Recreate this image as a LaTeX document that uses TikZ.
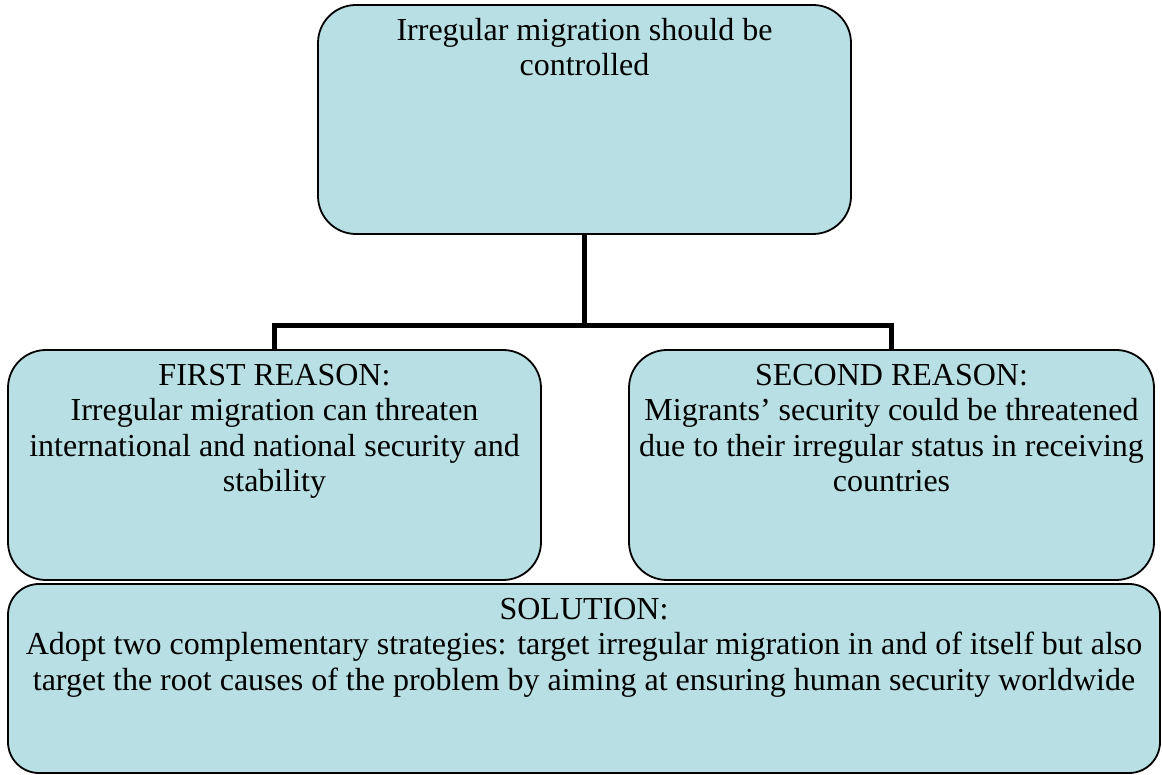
\documentclass[tikz,border=0pt]{standalone}
\usepackage{fontspec}
\setmainfont{Liberation Serif}
\definecolor{boxfill}{RGB}{184,223,227}
\begin{document}
\begin{tikzpicture}[x=1pt,y=1pt,
  card/.style={draw=black, line width=1.8pt, fill=boxfill, rounded corners=38pt,
               inner sep=0pt, outer sep=0pt},
  cardtext/.style={anchor=north, inner sep=0pt, align=center,
                   font=\fontsize{32}{35.5}\selectfont},
  link/.style={draw=black, line width=5pt, line join=miter}]
\useasboundingbox (0,0) rectangle (1162,774);

% boxes
\node[card, minimum width=533pt, minimum height=229pt] (claim)   at (584.5,654.5) {};
\node[card, minimum width=533pt, minimum height=230pt] (reason1) at (274.5,309) {};
\node[card, minimum width=525pt, minimum height=230pt] (reason2) at (891.5,309) {};
\node[card, rounded corners=31pt, minimum width=1152pt, minimum height=189pt] (solution) at (584,95.5) {};

% connectors
\draw[link] (claim.south) -- ++(0,-92) coordinate (joint);
\draw[link] (reason1.north) |- (joint) -| (reason2.north);

% texts
\node[cardtext] (claimtext) at (584.5,759) {\strut Irregular migration should be\\controlled};
\node[cardtext] (reason1text) at (274.5,414) {\strut FIRST REASON:\\Irregular migration can threaten\\international and national security and\\stability};
\node[cardtext] (reason2text) at (891.5,414) {\strut SECOND REASON:\\Migrants’ security could be threatened\\due to their irregular status in receiving\\countries};
\node[cardtext] (solutiontext) at (584,180) {\strut SOLUTION:\\Adopt two complementary strategies: target irregular migration in and of itself but also\\target the root causes of the problem by aiming at ensuring human security worldwide};
\end{tikzpicture}
\end{document}
